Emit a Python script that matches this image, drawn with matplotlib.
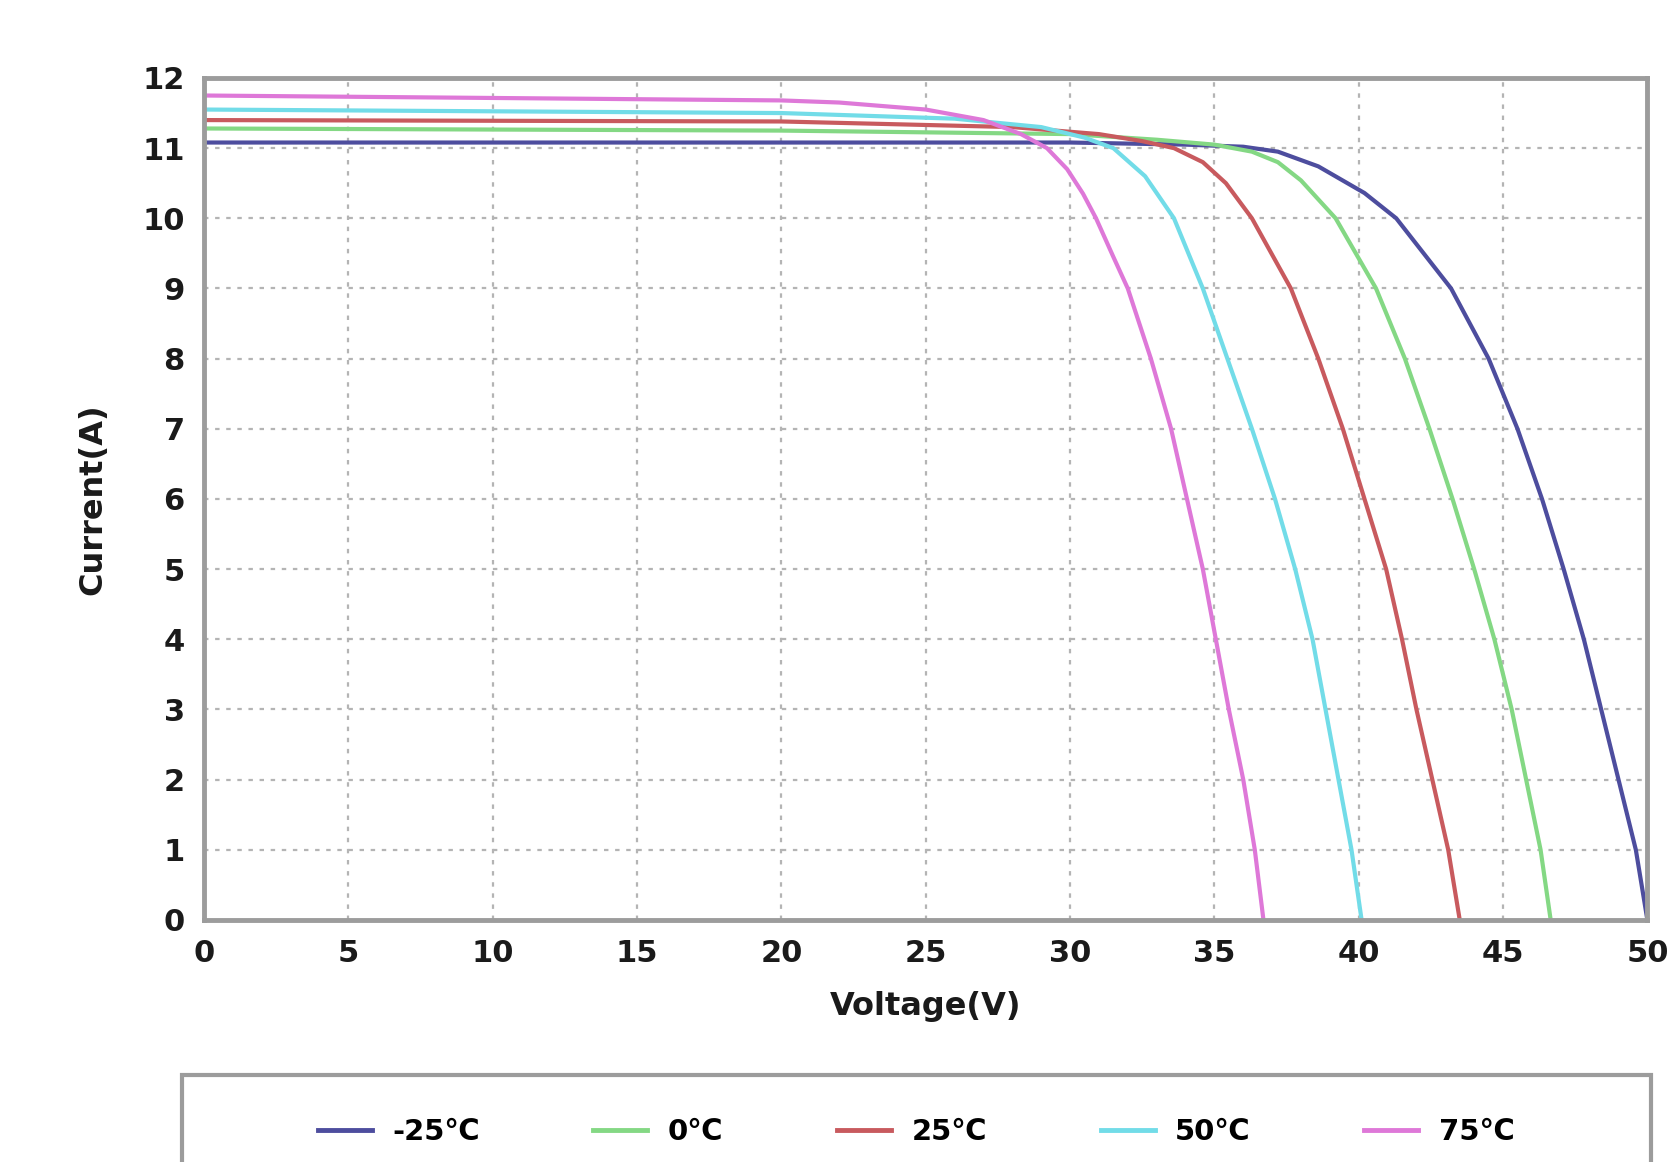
import matplotlib
matplotlib.use("Agg")
from matplotlib import pyplot as plt
from matplotlib.patches import Rectangle

# I-V curves (voltage in V, current in A)
labels = ["-25\u2103", "0\u2103", "25\u2103", "50\u2103", "75\u2103"]
colors = ["#4d4d9e", "#84d884", "#c85a5e", "#72dce8", "#de78d8"]

v_m25 = [0, 15, 30, 34, 36, 37.2, 38.6, 40.2, 41.3, 43.2, 44.5, 45.5, 46.35, 47.1, 47.8, 48.4, 49.0, 49.6, 50.0]
i_m25 = [11.08, 11.08, 11.08, 11.05, 11.02, 10.95, 10.74, 10.36, 10.0, 9.0, 8.0, 7.0, 6.0, 5.0, 4.0, 3.0, 2.0, 1.0, 0]

v_0 = [0, 20, 30, 33, 35, 36.3, 37.2, 38.0, 39.2, 40.6, 41.6, 42.45, 43.25, 44.0, 44.7, 45.3, 45.8, 46.3, 46.65]
i_0 = [11.28, 11.25, 11.2, 11.12, 11.05, 10.95, 10.8, 10.54, 10.0, 9.0, 8.0, 7.0, 6.0, 5.0, 4.0, 3.0, 2.0, 1.0, 0]

v_25 = [0, 20, 28, 31, 32.5, 33.6, 34.6, 35.4, 36.3, 37.65, 38.6, 39.45, 40.2, 40.95, 41.5, 42.0, 42.55, 43.1, 43.5]
i_25 = [11.4, 11.38, 11.3, 11.2, 11.1, 11.0, 10.8, 10.5, 10.0, 9.0, 8.0, 7.0, 6.0, 5.0, 4.0, 3.0, 2.0, 1.0, 0]

v_50 = [0, 20, 26, 29, 30.5, 31.5, 32.6, 33.6, 34.6, 35.45, 36.3, 37.1, 37.8, 38.4, 38.85, 39.3, 39.75, 40.1]
i_50 = [11.55, 11.5, 11.42, 11.3, 11.15, 11.0, 10.6, 10.0, 9.0, 8.0, 7.0, 6.0, 5.0, 4.0, 3.0, 2.0, 1.0, 0]

v_75 = [0, 20, 22, 25, 27, 28.3, 29.2, 29.9, 30.45, 30.9, 31.5, 32.0, 32.8, 33.5, 34.05, 34.6, 35.05, 35.5, 36.0, 36.4, 36.7]
i_75 = [11.75, 11.68, 11.65, 11.55, 11.4, 11.2, 11.0, 10.7, 10.35, 10.0, 9.45, 9.0, 8.0, 7.0, 6.0, 5.0, 4.0, 3.0, 2.0, 1.0, 0]

voltages = [v_m25, v_0, v_25, v_50, v_75]
currents = [i_m25, i_0, i_25, i_50, i_75]

x_ticks = list(range(0, 51, 5))
y_ticks = list(range(0, 13))

fig = plt.figure(figsize=(16.81, 11.62), dpi=100)
ax = fig.add_axes([0.1214, 0.2083, 0.8586, 0.7246])

for v, i, c, lab in zip(voltages, currents, colors, labels):
    ax.plot(v, i, color=c, lw=3.0, label=lab, solid_joinstyle="round")

ax.set_xlim(0, 50)
ax.set_ylim(0, 12)
ax.set_xticks(x_ticks)
ax.set_yticks(y_ticks)
ax.grid(True, color="#b4b4b4", lw=1.6, linestyle=(0, (2, 3)))
ax.set_axisbelow(True)

for s in ax.spines.values():
    s.set_color("#9c9c9c")
    s.set_linewidth(3.5)

ax.tick_params(length=0, pad=14, labelsize=22)
for t in ax.get_xticklabels() + ax.get_yticklabels():
    t.set_fontweight("bold")
    t.set_color("#1a1a1a")

ax.set_xlabel("Voltage(V)", fontsize=23, fontweight="bold", color="#1a1a1a", labelpad=16)
ax.set_ylabel("Current(A)", fontsize=23, fontweight="bold", color="#1a1a1a", labelpad=24)

# legend box runs off the bottom edge, as in the reference
fig.patches.append(Rectangle((0.108, -0.06), 0.874, 0.135, transform=fig.transFigure,
                             fill=False, edgecolor="#9c9c9c", lw=3))
leg = fig.legend(loc="center", bbox_to_anchor=(0.545, 0.026), ncol=5, frameon=False,
                 handlelength=1.85, handletextpad=0.7, columnspacing=3.9,
                 prop={"weight": "bold", "size": 21})
for h in leg.get_lines():
    h.set_linewidth(3.5)

fig.savefig("out.png", dpi=100)
